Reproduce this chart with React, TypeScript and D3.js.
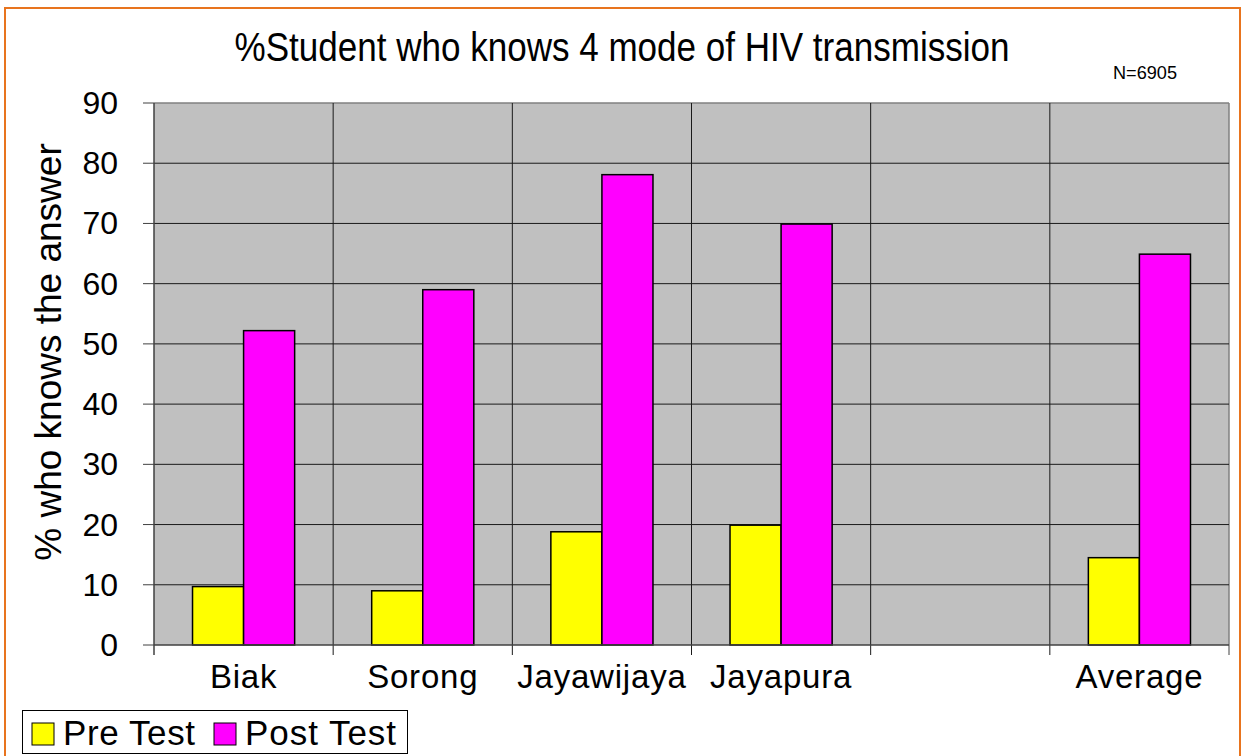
import React from 'react';
import * as d3 from 'd3';

const categories = ["Biak", "Sorong", "Jayawijaya", "Jayapura", "", "Average"];
const preTest: (number | null)[] = [9.7, 9.0, 18.8, 19.9, null, 14.5];
const postTest: (number | null)[] = [52.2, 59.0, 78.1, 69.9, null, 64.9];
const yTicks = [0, 10, 20, 30, 40, 50, 60, 70, 80, 90];
const seriesNames = ["Pre Test", "Post Test"];
const seriesColors = ["#FFFF00", "#FF00FF"];

const W = 1242, H = 756;
const margin = { top: 103, right: 13, bottom: 111, left: 154 };
const font = "'Liberation Sans', Arial, sans-serif";

export default function App() {
  const x = d3.scaleBand<string>()
    .domain(categories.map((c, i) => i + ""))
    .range([margin.left, W - margin.right])
    .padding(0);
  const y = d3.scaleLinear().domain([0, 90]).range([H - margin.bottom, margin.top]);
  const step = x.step();
  const barW = step * 0.285;
  const x0 = margin.left, x1 = W - margin.right;
  const y0 = y(0), yTop = y(90);

  const series = [preTest, postTest];
  // legend layout
  const legendX = [32, 214];
  const legendLen = [132, 151];

  return (
    <svg width={W} height={H} style={{ position: 'absolute', left: 0, top: 0, background: '#fff' }}
      fontFamily={font}>
      {/* orange frame */}
      <rect x={5} y={8} width={1235} height={760} fill="none" stroke="#E8741E" strokeWidth={2} />

      {/* title */}
      <text x={622} y={61} textAnchor="middle" fontSize={40} textLength={775}
        lengthAdjust="spacingAndGlyphs">%Student who knows 4 mode of HIV transmission</text>
      <text x={1113} y={79} fontSize={19} textLength={64} lengthAdjust="spacingAndGlyphs">N=6905</text>

      {/* plot area */}
      <rect x={x0} y={yTop} width={x1 - x0} height={y0 - yTop} fill="#C0C0C0" />
      <line x1={x0} x2={x1} y1={yTop} y2={yTop} stroke="#808080" strokeWidth={1.5} />
      <line x1={x1} x2={x1} y1={yTop} y2={y0} stroke="#808080" strokeWidth={1.5} />
      {yTicks.filter(t => t > 0 && t < 90).map(t => (
        <line key={t} x1={x0} x2={x1} y1={y(t)} y2={y(t)} stroke="#1a1a1a" strokeWidth={1} />
      ))}
      {categories.slice(1).map((c, i) => (
        <line key={i} x1={x(i + 1 + "")!} x2={x(i + 1 + "")!} y1={yTop} y2={y0 + 10}
          stroke="#1a1a1a" strokeWidth={1} />
      ))}
      <line x1={x1} x2={x1} y1={y0} y2={y0 + 10} stroke="#404040" strokeWidth={1} />

      {/* bars */}
      {series.map((vals, s) => vals.map((v, i) => v == null ? null : (
        <rect key={s + '-' + i}
          x={x(i + "")! + step / 2 - barW + s * barW}
          y={y(v)} width={barW} height={y0 - y(v)}
          fill={seriesColors[s]} stroke="#000" strokeWidth={1.5} />
      )))}

      {/* axes */}
      <line x1={x0} x2={x0} y1={yTop} y2={y0 + 10} stroke="#404040" strokeWidth={1.5} />
      <line x1={x0} x2={x1} y1={y0} y2={y0} stroke="#404040" strokeWidth={1.5} />
      {yTicks.map(t => (
        <g key={t}>
          <line x1={x0 - 11} x2={x0} y1={y(t)} y2={y(t)} stroke="#404040" strokeWidth={1} />
          <text x={118} y={y(t) + 11} textAnchor="end" fontSize={32}>{t}</text>
        </g>
      ))}
      {categories.map((c, i) => (
        <text key={i} x={x(i + "")! + step / 2} y={688} textAnchor="middle" fontSize={33}
          letterSpacing={0.8}>{c}</text>
      ))}

      {/* y axis title */}
      <text transform="translate(61,352) rotate(-90)" textAnchor="middle" fontSize={37}>% who knows the answer</text>

      {/* legend */}
      <rect x={22.5} y={710.5} width={385} height={43} fill="#fff" stroke="#000" strokeWidth={1} />
      {seriesNames.map((n, i) => (
        <g key={n}>
          <rect x={legendX[i]} y={723} width={22} height={22} fill={seriesColors[i]} stroke="#000" strokeWidth={1} />
          <text x={legendX[i] + 31} y={745} fontSize={35} textLength={legendLen[i]}
            lengthAdjust="spacing">{n}</text>
        </g>
      ))}
    </svg>
  );
}
